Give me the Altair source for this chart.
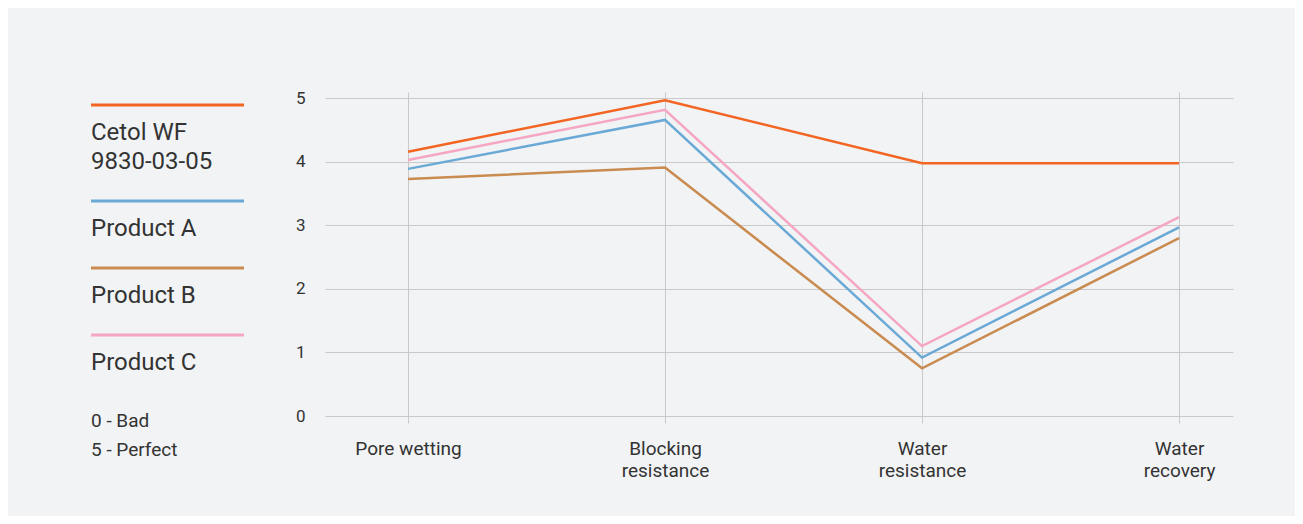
import altair as alt
import pandas as pd

# ---- data ----
categories = ["Pore wetting", "Blocking resistance", "Water resistance", "Water recovery"]
series_names = ["Cetol WF 9830-03-05", "Product A", "Product B", "Product C"]
cetol = [4.16, 4.97, 3.98, 3.98]
product_a = [3.89, 4.66, 0.92, 2.97]
product_b = [3.73, 3.91, 0.75, 2.80]
product_c = [4.03, 4.82, 1.10, 3.13]
legend_labels = ["Cetol WF\n9830-03-05", "Product A", "Product B", "Product C"]
note_lines = ["0 - Bad", "5 - Perfect"]
y_ticks = [0, 1, 2, 3, 4, 5]

# ---- style ----
colors = ["#f26522", "#6aa9d6", "#c98b50", "#f5a6c1"]
BG = "#f2f3f5"
GRID = "#c9c9c9"
TXT = "#333333"
FONT = "Roboto"
PLOT_W, PLOT_H = 908, 324
LEG_W = 153

values = [cetol, product_a, product_b, product_c]
rows = []
for s, vals in zip(series_names, values):
    for c, v in zip(categories, vals):
        rows.append({"series": s, "category": c, "value": v})
df = pd.DataFrame(rows)

color_scale = alt.Scale(domain=series_names, range=colors)

main = alt.Chart(df).mark_line(strokeWidth=2.5).encode(
    x=alt.X(
        "category:N",
        sort=categories,
        scale=alt.Scale(type="point", padding=0.2665, align=0.606),
        axis=alt.Axis(
            title=None, labelAngle=0, grid=True, gridColor=GRID, gridWidth=1,
            domain=False, ticks=True, tickSize=7, tickColor=GRID,
            labelPadding=16, labelFontSize=19, labelColor=TXT, labelFont=FONT,
            labelLineHeight=22,
            labelExpr="datum.label == 'Pore wetting' ? datum.label : split(datum.label, ' ')",
        ),
    ),
    y=alt.Y(
        "value:Q",
        scale=alt.Scale(domain=[0, 5.1], nice=False, zero=True),
        axis=alt.Axis(
            title=None, values=y_ticks, grid=True, gridColor=GRID, gridWidth=1,
            domain=False, ticks=False, labelPadding=20, labelFontSize=17,
            labelColor=TXT, labelFont=FONT,
        ),
    ),
    color=alt.Color("series:N", scale=color_scale, legend=None),
    order=alt.Order("cat_order:Q"),
).transform_calculate(
    cat_order="indexof(" + str(categories) + ", datum.category)"
).properties(width=PLOT_W, height=PLOT_H)

# ---- custom legend panel ----
leg_df = pd.DataFrame({
    "series": series_names,
    "label": legend_labels,
    "idx": list(range(len(series_names))),
})
leg_scale = alt.Scale(domain=[0, PLOT_H], range=[0, PLOT_H], nice=False, zero=False)

leg_base = alt.Chart(leg_df).transform_calculate(
    nlines="length(split(datum.label, '\\n'))"
).transform_calculate(
    h="38 + 29 * datum.nlines"
).transform_window(
    cum="sum(h)", frame=[None, 0], sort=[alt.SortField("idx")]
).transform_calculate(
    pos="13 + datum.cum - datum.h"
)

leg_rules = leg_base.mark_rule(strokeWidth=3).encode(
    x=alt.value(0),
    x2=alt.value(LEG_W),
    y=alt.Y("pos:Q", scale=leg_scale, axis=None),
    color=alt.Color("series:N", scale=color_scale, legend=None),
)
leg_text = leg_base.mark_text(
    align="left", baseline="alphabetic", dy=35, fontSize=24, lineHeight=29,
    lineBreak="\n", font=FONT, color=TXT,
).encode(
    x=alt.value(0),
    y=alt.Y("pos:Q", scale=leg_scale, axis=None),
    text="label:N",
)
note = alt.Chart(pd.DataFrame({"t": ["\n".join(note_lines)]})).mark_text(
    align="left", baseline="alphabetic", fontSize=19, lineHeight=29,
    lineBreak="\n", font=FONT, color=TXT,
).encode(x=alt.value(0), y=alt.value(335), text="t:N")

legend = alt.layer(leg_rules, leg_text, note).properties(width=LEG_W, height=PLOT_H)

chart = alt.hconcat(legend, main, spacing=81, bounds="flush").properties(
    padding={"left": 81, "top": 81, "right": 62, "bottom": 36},
    background=BG,
).configure_view(stroke=None)

chart.save("out.html", embed_options={"renderer": "svg", "actions": False})
